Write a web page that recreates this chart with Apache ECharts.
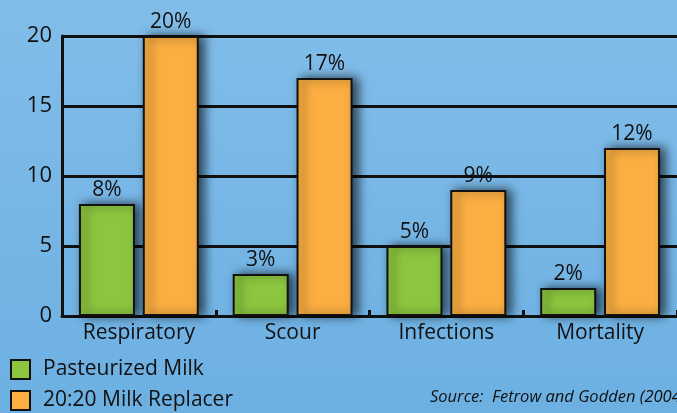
<!DOCTYPE html>
<html>
<head>
<meta charset="utf-8">
<script src="https://cdn.jsdelivr.net/npm/echarts@6/dist/echarts.min.js"></script>
<style>
html, body { margin: 0; padding: 0; }
#chart { width: 677px; height: 413px; }
</style>
</head>
<body>
<div id="chart"></div>
<script>
// data
var categories = ['Respiratory', 'Scour', 'Infections', 'Mortality'];
var pasteurized = [8, 3, 5, 2];
var replacer = [20, 17, 9, 12];
var seriesNames = ['Pasteurized Milk', '20:20 Milk Replacer'];
var yTicks = [0, 5, 10, 15, 20];

var fontFamily = '"Open Sans", "DejaVu Sans", sans-serif';
var green = '#8cc63f';
var orange = '#fbae42';
var textColor = '#111';

var barStyle = function (color) {
    return {
        color: color,
        borderColor: '#111',
        borderWidth: 2,
        shadowColor: 'rgba(0,0,0,0.65)',
        shadowBlur: 10,
        shadowOffsetX: 5,
        shadowOffsetY: 0
    };
};

var chart = echarts.init(document.getElementById('chart'));
var option = {
    backgroundColor: {
        type: 'linear', x: 0, y: 0, x2: 0, y2: 1,
        colorStops: [{offset: 0, color: '#82bde9'}, {offset: 1, color: '#6cb0e2'}]
    },
    animation: false,
    textStyle: {fontFamily: fontFamily, color: textColor},
    grid: {left: 62, top: 36, width: 621, height: 280},
    legend: {
        orient: 'vertical',
        left: 10,
        top: 359,
        padding: 0,
        itemWidth: 19,
        itemHeight: 19,
        itemGap: 10,
        icon: 'rect',
        data: seriesNames,
        textStyle: {fontSize: 21, color: textColor, fontFamily: fontFamily, padding: [0, 0, 0, 8]}
    },
    xAxis: {
        type: 'category',
        data: categories,
        axisLine: {lineStyle: {color: '#111', width: 3}},
        axisTick: {show: true, inside: true, length: 6, lineStyle: {color: '#111', width: 3}},
        axisLabel: {fontSize: 21, color: textColor, margin: 7, fontFamily: fontFamily}
    },
    yAxis: {
        type: 'value',
        min: yTicks[0],
        max: yTicks[yTicks.length - 1],
        interval: 5,
        axisLine: {show: true, lineStyle: {color: '#111', width: 3}},
        axisTick: {show: false},
        splitLine: {lineStyle: {color: '#111', width: 3}},
        axisLabel: {fontSize: 22, color: textColor, margin: 10, fontFamily: fontFamily}
    },
    series: [
        {
            name: seriesNames[0],
            type: 'bar',
            data: pasteurized,
            barWidth: 56,
            barGap: '14%',
            itemStyle: barStyle(green),
            label: {show: true, position: 'top', distance: 3, formatter: '{c}%', fontSize: 21, color: textColor, fontFamily: fontFamily}
        },
        {
            name: seriesNames[1],
            type: 'bar',
            data: replacer,
            barWidth: 56,
            barGap: '14%',
            itemStyle: barStyle(orange),
            label: {show: true, position: 'top', distance: 3, formatter: '{c}%', fontSize: 21, color: textColor, fontFamily: fontFamily}
        }
    ],
    graphic: [{
        type: 'text',
        left: 430,
        top: 389,
        style: {
            text: 'Source:  Fetrow and Godden (2004)',
            fontSize: 16.5,
            fontStyle: 'italic',
            fontFamily: fontFamily,
            fill: textColor
        }
    }]
};
chart.setOption(option);
</script>
</body>
</html>
